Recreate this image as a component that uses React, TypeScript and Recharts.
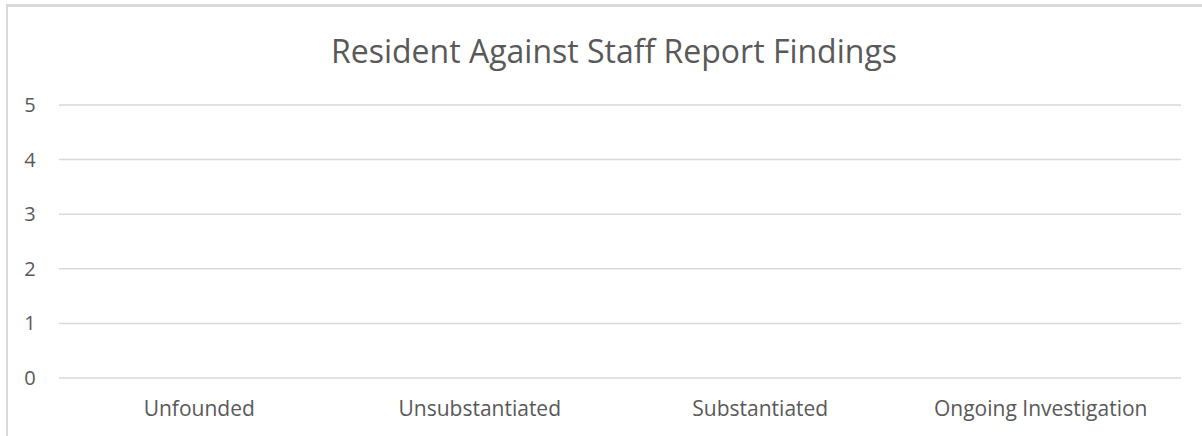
import { Bar, BarChart, CartesianGrid, XAxis, YAxis } from "recharts";

const categories = ["Unfounded", "Unsubstantiated", "Substantiated", "Ongoing Investigation"];
const findings = [0, 0, 0, 0];
const yTicks = [0, 1, 2, 3, 4, 5];

const chartTitle = "Resident Against Staff Report Findings";

const data = categories.map((name, i) => ({ name, value: findings[i] }));

const FONT = "'Open Sans', sans-serif";
const TEXT = "#595959";
const GRID = "#d9d9d9";

const YTick = (props: any) => {
  const { y, payload } = props;
  return (
    <text x={30} y={y} dy={7} textAnchor="middle" fill={TEXT} fontSize={20} fontFamily={FONT}>
      {payload.value}
    </text>
  );
};

export default function App() {
  return (
    <div style={{ position: "absolute", left: 0, top: 0, width: 1202, height: 436, background: "#fff" }}>
      <div
        style={{
          position: "absolute",
          left: 6,
          top: 4,
          right: 0,
          height: 3,
          background: GRID,
        }}
      />
      <div style={{ position: "absolute", left: 6, top: 4, width: 2, bottom: 0, background: GRID }} />
      <div
        style={{
          position: "absolute",
          left: 0,
          width: 1228,
          top: 30,
          textAlign: "center",
          fontFamily: FONT,
          fontSize: 32,
          color: TEXT,
          lineHeight: "42px",
        }}
      >
        {chartTitle}
      </div>
      <BarChart
        width={1202}
        height={436}
        data={data}
        margin={{ top: 105, right: 21, bottom: 28, left: 0 }}
        style={{ position: "absolute", left: 0, top: 0 }}
      >
        <CartesianGrid vertical={false} stroke={GRID} strokeWidth={1.5} />
        <XAxis
          dataKey="name"
          height={30}
          axisLine={false}
          tickLine={false}
          tickSize={0}
          tickMargin={23}
          tick={{ fill: TEXT, fontSize: 21, fontFamily: FONT }}
        />
        <YAxis
          width={59}
          domain={[0, 5]}
          ticks={yTicks}
          axisLine={false}
          tickLine={false}
          tick={<YTick />}
        />
        <Bar dataKey="value" fill="#4472c4" isAnimationActive={false} />
      </BarChart>
    </div>
  );
}
